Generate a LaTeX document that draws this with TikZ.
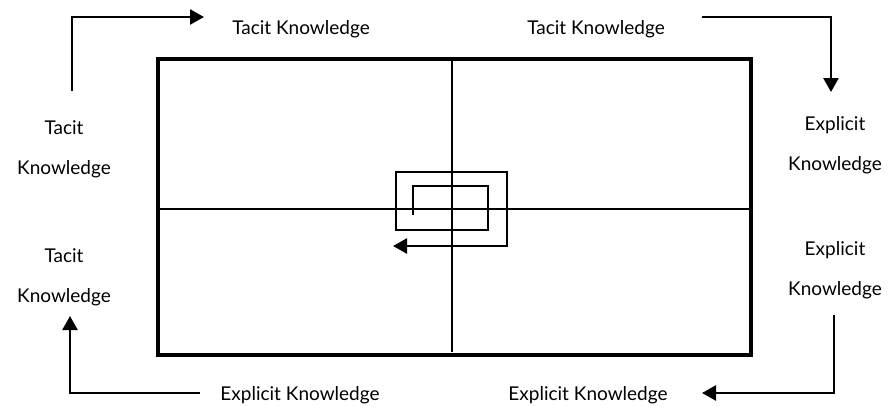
\documentclass[tikz,border=0pt]{standalone}
\usepackage{fontspec}
\setmainfont{Lato}
\usetikzlibrary{arrows.meta}
\begin{document}
\begin{tikzpicture}[x=1pt,y=-1pt,
  lbl/.style={font={\fontsize{19}{40}\selectfont}, align=center, inner sep=0pt},
  conn/.style={line width=2.5pt, -{Triangle[length=14pt,width=15pt]}},
  frame/.style={line width=4pt},
  axis/.style={line width=2.3pt},
  spiralline/.style={line width=2.5pt, -{Triangle[length=14pt,width=15pt]}}]
\useasboundingbox (0,0) rectangle (889,407);
% main frame
\draw[frame] (158,59) rectangle (751,355);
\coordinate (vtop) at (452,59);
\coordinate (vbot) at (452,352);
\coordinate (hl) at (158,209);
\coordinate (hr) at (751,209);
\draw[axis] (vtop) -- (vbot);
\draw[axis] (hl) -- (hr);
% spiral
\coordinate (sp0) at (413,215);
\coordinate (sp1) at (393,246);
\draw[spiralline] (sp0) -- (413,186) -- (488,186) -- (488,230) -- (396,230) -- (396,172) -- (507,172) -- (507,246) -- (sp1);
% labels
\node[lbl] (tl) at (64,149) {Tacit\\Knowledge};
\node[lbl] (bl) at (64,277) {Tacit\\Knowledge};
\node[lbl] (tr) at (835,145) {Explicit\\Knowledge};
\node[lbl] (br) at (835,270) {Explicit\\Knowledge};
\node[lbl] (tt1) at (301,29) {Tacit Knowledge};
\node[lbl] (tt2) at (596,29) {Tacit Knowledge};
\node[lbl] (bb1) at (300,395) {Explicit Knowledge};
\node[lbl] (bb2) at (588,395) {Explicit Knowledge};
% connector ends
\coordinate (a1s) at (72,91);
\coordinate (a1e) at (204,17);
\coordinate (a2s) at (702,17);
\coordinate (a2e) at (831,92);
\coordinate (a3s) at (834,315);
\coordinate (a3e) at (702,393);
\coordinate (a4s) at (200,393);
\coordinate (a4e) at (70,316);
\draw[conn] (a1s) |- (a1e);
\draw[conn] (a2s) -| (a2e);
\draw[conn] (a3s) |- (a3e);
\draw[conn] (a4s) -| (a4e);
\end{tikzpicture}
\end{document}
